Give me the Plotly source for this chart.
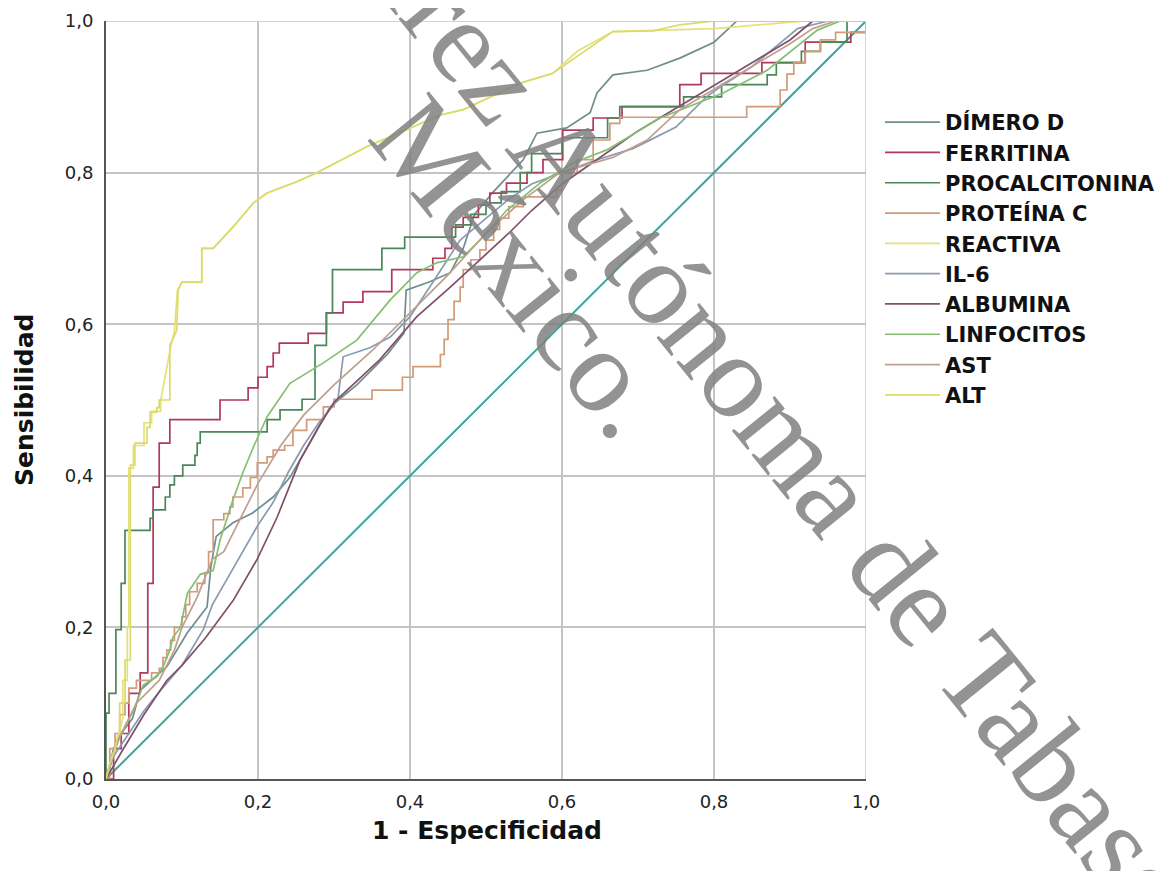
import plotly.graph_objects as go

# ---------------- data ----------------
TICK_VALS = [0.0, 0.2, 0.4, 0.6, 0.8, 1.0]
TICK_TEXT = ["0,0", "0,2", "0,4", "0,6", "0,8", "1,0"]

SERIES_NAMES = ["DÍMERO D", "FERRITINA", "PROCALCITONINA", "PROTEÍNA C", "REACTIVA",
                "IL-6", "ALBUMINA", "LINFOCITOS", "AST", "ALT"]

DIM_X = [0, 0.01, 0.02, 0.035, 0.045, 0.08, 0.107, 0.133, 0.138, 0.145, 0.167, 0.193, 0.22, 0.242,
         0.268, 0.295, 0.33, 0.37, 0.392, 0.395, 0.426, 0.453, 0.47, 0.485, 0.51, 0.549, 0.567,
         0.606, 0.637, 0.646, 0.667, 0.712, 0.755, 0.8, 0.83, 1.0]
DIM_Y = [0, 0.04, 0.06, 0.08, 0.117, 0.148, 0.193, 0.227, 0.28, 0.32, 0.338, 0.351, 0.372, 0.398,
         0.443, 0.491, 0.52, 0.56, 0.588, 0.645, 0.656, 0.668, 0.70, 0.745, 0.775, 0.817, 0.852,
         0.859, 0.879, 0.905, 0.929, 0.935, 0.951, 0.972, 1.0, 1.0]

FER_X = [0, 0.01, 0.02, 0.03, 0.045, 0.055, 0.062, 0.07, 0.084, 0.15, 0.187, 0.2, 0.212, 0.22,
         0.228, 0.266, 0.29, 0.312, 0.338, 0.376, 0.43, 0.446, 0.455, 0.47, 0.49, 0.505, 0.527,
         0.554, 0.575, 0.601, 0.641, 0.679, 0.755, 0.783, 0.863, 0.92, 0.98, 1.0]
FER_Y = [0, 0.04, 0.06, 0.113, 0.14, 0.258, 0.385, 0.443, 0.474, 0.50, 0.516, 0.53, 0.544, 0.562,
         0.575, 0.588, 0.615, 0.629, 0.643, 0.672, 0.687, 0.70, 0.728, 0.741, 0.757, 0.773, 0.786,
         0.80, 0.817, 0.856, 0.872, 0.887, 0.916, 0.931, 0.945, 0.972, 0.985, 1.0]

PCT_X = [0, 0, 0.004, 0.013, 0.02, 0.025, 0.058, 0.062, 0.078, 0.084, 0.09, 0.101, 0.117, 0.12,
         0.124, 0.212, 0.229, 0.258, 0.275, 0.29, 0.298, 0.363, 0.393, 0.46, 0.48, 0.5, 0.52,
         0.545, 0.56, 0.6, 0.66, 0.676, 0.76, 0.81, 0.87, 0.882, 0.915, 0.94, 0.975, 1.0]
PCT_Y = [0, 0.087, 0.113, 0.197, 0.258, 0.328, 0.344, 0.355, 0.372, 0.388, 0.40, 0.414, 0.427, 0.443,
         0.458, 0.474, 0.487, 0.501, 0.572, 0.615, 0.672, 0.70, 0.715, 0.731, 0.745, 0.76, 0.775,
         0.80, 0.825, 0.846, 0.872, 0.887, 0.90, 0.916, 0.929, 0.945, 0.96, 0.972, 1.0, 1.0]

PCR_X = [0, 0.005, 0.012, 0.018, 0.025, 0.03, 0.04, 0.06, 0.07, 0.075, 0.08, 0.085, 0.09, 0.1,
         0.105, 0.11, 0.12, 0.13, 0.135, 0.141, 0.155, 0.163, 0.167, 0.18, 0.19, 0.199, 0.212,
         0.22, 0.235, 0.246, 0.264, 0.286, 0.3, 0.35, 0.39, 0.404, 0.44, 0.445, 0.45, 0.458,
         0.466, 0.47, 0.48, 0.492, 0.5, 0.51, 0.518, 0.53, 0.549, 0.593, 0.6, 0.62, 0.641,
         0.663, 0.676, 0.843, 0.887, 0.896, 0.905, 0.92, 0.94, 0.96, 1.0]
PCR_Y = [0, 0.04, 0.06, 0.085, 0.1, 0.12, 0.13, 0.14, 0.146, 0.16, 0.17, 0.183, 0.2, 0.214,
         0.23, 0.247, 0.258, 0.272, 0.3, 0.342, 0.35, 0.359, 0.372, 0.384, 0.398, 0.417, 0.425,
         0.434, 0.44, 0.46, 0.474, 0.491, 0.501, 0.513, 0.53, 0.544, 0.56, 0.58, 0.606, 0.63,
         0.649, 0.672, 0.685, 0.698, 0.711, 0.725, 0.74, 0.755, 0.768, 0.777, 0.80, 0.817, 0.843,
         0.865, 0.873, 0.887, 0.909, 0.93, 0.945, 0.96, 0.975, 0.985, 1.0]

REA_X = [0, 0.008, 0.015, 0.022, 0.022, 0.028, 0.028, 0.03, 0.03, 0.036, 0.036, 0.05, 0.05, 0.06,
         0.06, 0.072, 0.072, 0.086, 0.09, 0.094, 0.1, 0.126, 0.126, 0.141, 0.167, 0.194, 0.212,
         0.251, 0.278, 0.343, 0.387, 0.44, 0.47, 0.545, 0.588, 0.62, 0.667, 0.8, 0.92, 1.0]
REA_Y = [0, 0.03, 0.05, 0.08, 0.13, 0.13, 0.2, 0.2, 0.41, 0.41, 0.44, 0.44, 0.47, 0.47,
         0.485, 0.485, 0.50, 0.575, 0.59, 0.645, 0.655, 0.655, 0.70, 0.70, 0.728, 0.76, 0.773,
         0.788, 0.80, 0.834, 0.853, 0.876, 0.883, 0.918, 0.931, 0.96, 0.986, 0.99, 1.0, 1.0]

IL6_X = [0, 0.01, 0.03, 0.05, 0.07, 0.1, 0.128, 0.14, 0.16, 0.18, 0.2, 0.22, 0.24, 0.26, 0.28,
         0.305, 0.312, 0.347, 0.374, 0.4, 0.426, 0.466, 0.5, 0.53, 0.56, 0.6, 0.64, 0.694, 0.75,
         0.79, 0.808, 0.85, 0.88, 0.91, 0.95, 1.0]
IL6_Y = [0, 0.03, 0.06, 0.09, 0.115, 0.15, 0.197, 0.23, 0.265, 0.3, 0.335, 0.365, 0.405, 0.44, 0.47,
         0.50, 0.557, 0.569, 0.583, 0.61, 0.649, 0.711, 0.74, 0.765, 0.785, 0.80, 0.815, 0.832, 0.86,
         0.90, 0.913, 0.94, 0.965, 0.99, 1.0, 1.0]

ALB_X = [0, 0.02, 0.05, 0.08, 0.1, 0.13, 0.167, 0.199, 0.225, 0.255, 0.28, 0.3, 0.33, 0.36, 0.409,
         0.453, 0.492, 0.53, 0.56, 0.6, 0.65, 0.7, 0.75, 0.8, 0.85, 0.9, 0.93, 1.0]
ALB_Y = [0, 0.035, 0.085, 0.13, 0.15, 0.185, 0.235, 0.29, 0.345, 0.42, 0.465, 0.497, 0.525, 0.553, 0.61,
         0.649, 0.685, 0.72, 0.75, 0.785, 0.82, 0.855, 0.885, 0.915, 0.945, 0.975, 1.0, 1.0]

LIN_X = [0, 0.004, 0.018, 0.036, 0.049, 0.067, 0.075, 0.084, 0.088, 0.098, 0.107, 0.124, 0.141,
         0.15, 0.167, 0.18, 0.194, 0.212, 0.242, 0.286, 0.33, 0.374, 0.409, 0.435, 0.47, 0.492,
         0.527, 0.571, 0.615, 0.659, 0.729, 0.812, 0.87, 0.909, 0.936, 0.966, 1.0]
LIN_Y = [0, 0.016, 0.055, 0.09, 0.124, 0.135, 0.148, 0.17, 0.187, 0.2, 0.245, 0.27, 0.275,
         0.315, 0.368, 0.404, 0.438, 0.478, 0.522, 0.549, 0.579, 0.632, 0.668, 0.681, 0.689, 0.711,
         0.75, 0.786, 0.813, 0.83, 0.872, 0.905, 0.935, 0.966, 0.988, 1.0, 1.0]

AST_X = [0, 0.015, 0.04, 0.07, 0.09, 0.1, 0.12, 0.14, 0.155, 0.17, 0.2, 0.23, 0.26, 0.3, 0.35, 0.4,
         0.45, 0.5, 0.55, 0.597, 0.667, 0.712, 0.755, 0.8, 0.85, 0.9, 0.93, 0.96, 1.0]
AST_Y = [0, 0.05, 0.1, 0.13, 0.17, 0.2, 0.24, 0.29, 0.3, 0.33, 0.39, 0.44, 0.48, 0.52, 0.565, 0.615,
         0.665, 0.72, 0.765, 0.80, 0.82, 0.843, 0.883, 0.91, 0.94, 0.97, 0.99, 1.0, 1.0]

ALT_X = [0, 0.005, 0.012, 0.016, 0.018, 0.018, 0.025, 0.025, 0.032, 0.032, 0.038, 0.038, 0.054, 0.054,
         0.058, 0.058, 0.067, 0.067, 0.07, 0.07, 0.084, 0.084, 0.088, 0.093, 0.095, 0.1, 0.126, 0.126,
         0.141, 0.167, 0.194, 0.212, 0.251, 0.278, 0.343, 0.387, 0.44, 0.47, 0.545, 0.588, 0.667,
         0.72, 0.755, 0.8, 1.0]
ALT_Y = [0, 0.02, 0.04, 0.06, 0.06, 0.10, 0.10, 0.157, 0.157, 0.414, 0.414, 0.443, 0.443, 0.464,
         0.464, 0.484, 0.484, 0.49, 0.49, 0.50, 0.50, 0.573, 0.58, 0.592, 0.645, 0.656, 0.656, 0.70,
         0.70, 0.728, 0.76, 0.773, 0.788, 0.80, 0.834, 0.853, 0.876, 0.883, 0.918, 0.931, 0.986,
         0.987, 0.995, 1.0, 1.0]

REF_X = [0.0, 1.0]
REF_Y = [0.0, 1.0]

X_TITLE = "1 - Especificidad"
Y_TITLE = "Sensibilidad"
WATERMARK_1 = "Juárez Autónoma de Tabasco"
WATERMARK_2 = "México."

# ---------------- styling ----------------
COLORS = ["#6f8d8f", "#b0395f", "#4b8658", "#d39b78", "#e3e27a",
          "#8a9bb0", "#80506a", "#86bf72", "#bfa08e", "#dbdb6c"]
SHAPES = ["linear", "hv", "hv", "hv", "linear", "linear", "linear", "linear", "linear", "linear"]
XS = [DIM_X, FER_X, PCT_X, PCR_X, REA_X, IL6_X, ALB_X, LIN_X, AST_X, ALT_X]
YS = [DIM_Y, FER_Y, PCT_Y, PCR_Y, REA_Y, IL6_Y, ALB_Y, LIN_Y, AST_Y, ALT_Y]

OFF = 8                      # page margin of the html body
W, H = 1160, 863             # figure size
PX0, PX1 = 106, 866          # plot area in page pixels (x)
PY0, PY1 = 21, 779           # plot area in page pixels (y)
L, T = PX0 - OFF, PY0 - OFF
R = W - L - (PX1 - PX0)
B = H - T - (PY1 - PY0)

fig = go.Figure()

fig.add_trace(go.Scatter(x=REF_X, y=REF_Y, mode="lines", showlegend=False,
                         line=dict(color="#3aa59d", width=2), hoverinfo="skip"))

for name, xs, ys, col, shp in zip(SERIES_NAMES, XS, YS, COLORS, SHAPES):
    fig.add_trace(go.Scatter(x=xs, y=ys, name=name, mode="lines",
                             line=dict(color=col, width=1.7, shape=shp)))

axis_common = dict(range=[0, 1], tickvals=TICK_VALS, ticktext=TICK_TEXT, showgrid=True,
                   gridcolor="#c4c4c4", gridwidth=1.5, zeroline=False, showline=True,
                   linecolor="#555555", linewidth=2, ticks="", automargin=False,
                   tickfont=dict(family="DejaVu Sans", size=18, color="#222222"))


def px_to_paper(px, py):
    return (px - PX0) / (PX1 - PX0), (PY1 - py) / (PY1 - PY0)


leg_x, leg_y = px_to_paper(880, 102)

fig.update_layout(
    width=W, height=H,
    margin=dict(l=L, r=R, t=T, b=B, pad=0, autoexpand=False),
    paper_bgcolor="white", plot_bgcolor="white",
    xaxis=dict(**axis_common, ticklabelstandoff=5),
    yaxis=dict(**axis_common, ticklabelstandoff=7),
    legend=dict(x=leg_x, xanchor="left", y=leg_y, yanchor="top",
                font=dict(family="DejaVu Sans", size=21, color="#111111", weight="bold"),
                itemwidth=55, bgcolor="rgba(0,0,0,0)", tracegroupgap=0),
    shapes=[
        dict(type="line", xref="x", yref="y", x0=1, x1=1, y0=0, y1=1,
             line=dict(color="#c4c4c4", width=1.5)),
        dict(type="line", xref="x", yref="y", x0=0, x1=1, y0=1, y1=1,
             line=dict(color="#c4c4c4", width=1.5)),
    ],
)

ax_x, ax_y = px_to_paper(487, 830)
ay_x, ay_y = px_to_paper(24, 400)
w1x, w1y = px_to_paper(768, 410)
w2x, w2y = px_to_paper(522, 266)

fig.add_annotation(text=X_TITLE, xref="paper", yref="paper", x=ax_x, y=ax_y,
                   showarrow=False, xanchor="center", yanchor="middle",
                   font=dict(family="DejaVu Sans", size=25, color="#111111", weight="bold"))
fig.add_annotation(text=Y_TITLE, xref="paper", yref="paper", x=ay_x, y=ay_y, textangle=-90,
                   showarrow=False, xanchor="center", yanchor="middle",
                   font=dict(family="DejaVu Sans", size=25, color="#111111", weight="bold"))
for txt, wx, wy in [(WATERMARK_1, w1x, w1y), (WATERMARK_2, w2x, w2y)]:
    fig.add_annotation(text=txt, xref="paper", yref="paper", x=wx, y=wy, textangle=51,
                       showarrow=False, xanchor="center", yanchor="middle",
                       font=dict(family="Liberation Serif", size=120, color="rgba(128,128,128,0.85)"))

fig.write_html("out.html")
